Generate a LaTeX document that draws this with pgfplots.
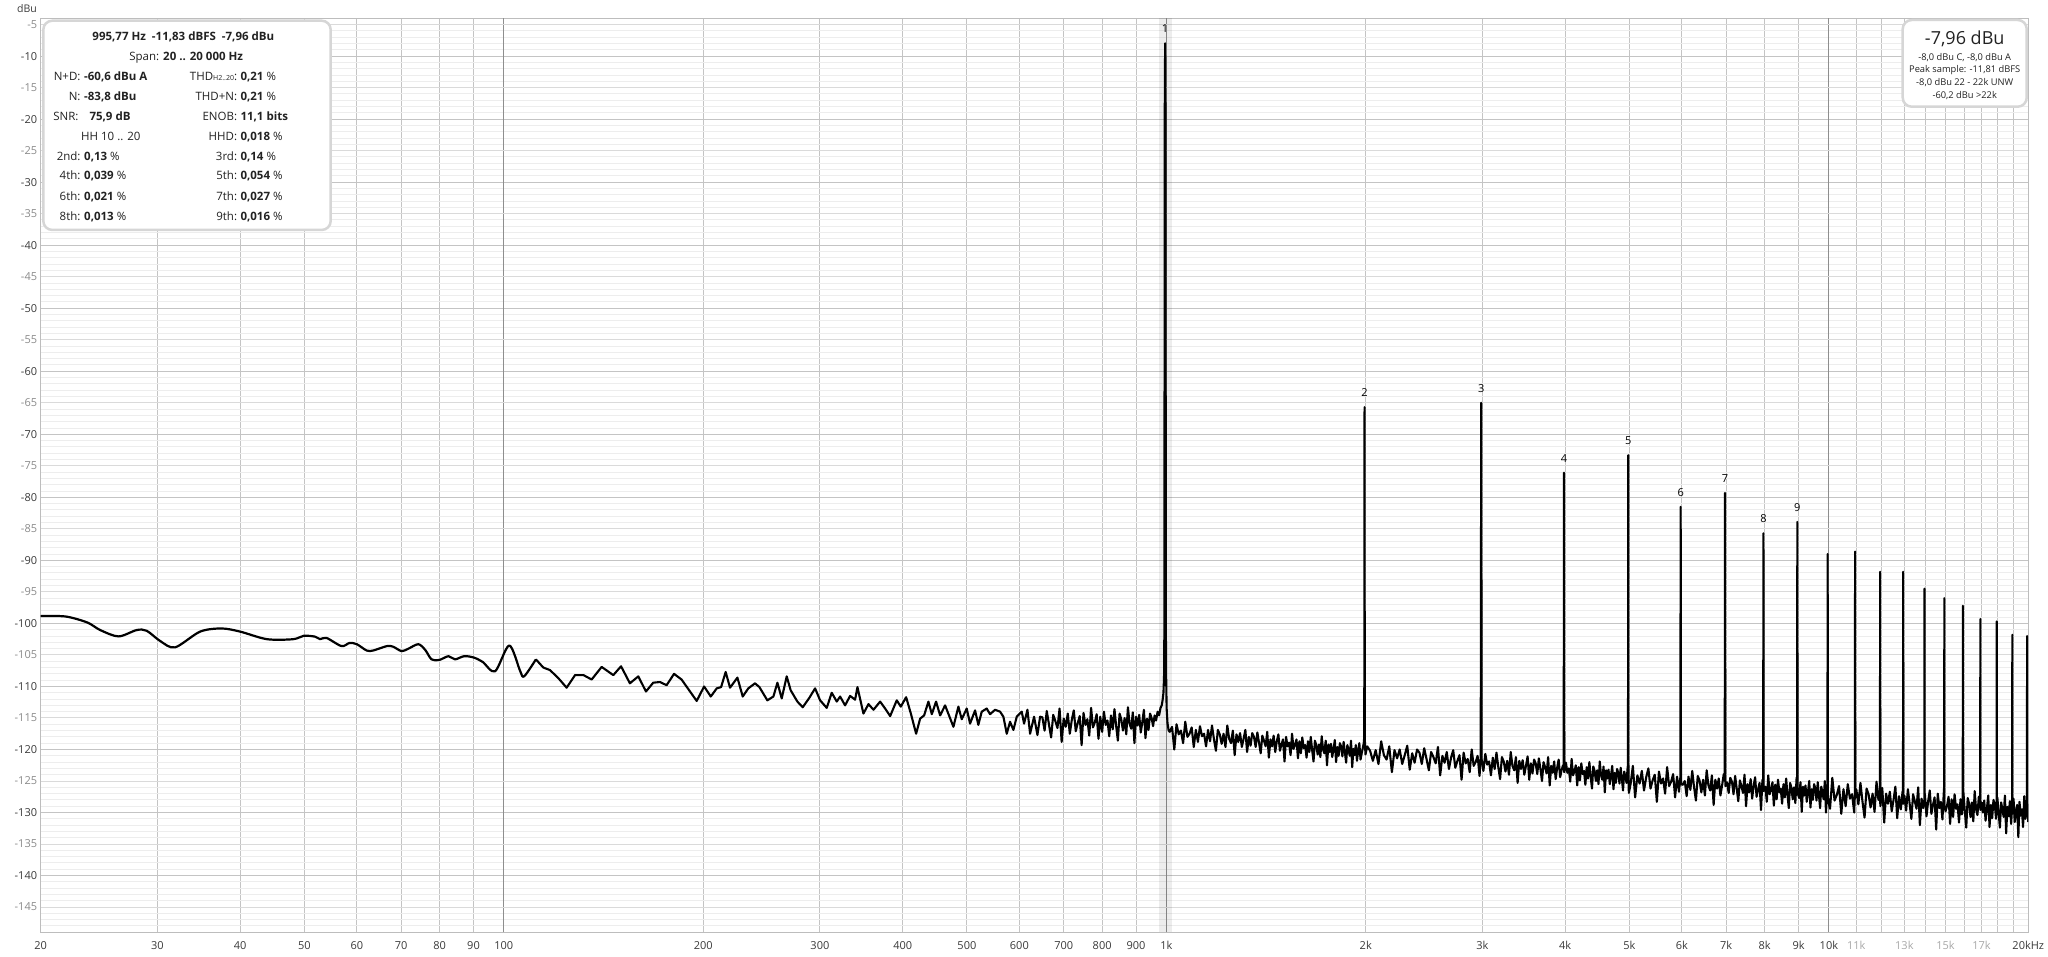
\documentclass[border=0pt]{standalone}
\usepackage{fontspec}
\setmainfont{Open Sans}
\usepackage{pgfplots}
\pgfplotsset{compat=1.18}
\usepackage{pgfplotstable}
\definecolor{gminor}{HTML}{EDEDED}
\definecolor{gfive}{HTML}{DADADA}
\definecolor{gten}{HTML}{C4C4C4}
\definecolor{gdec}{HTML}{8E8E8E}
\definecolor{framec}{HTML}{BDBDBD}
\definecolor{labdark}{HTML}{3A3A3A}
\definecolor{labgray}{HTML}{8A8A8A}
\definecolor{lablight}{HTML}{A8A8A8}
\definecolor{boxborder}{HTML}{D6D6D6}
\definecolor{txt}{HTML}{222222}

\pgfplotstableread[row sep=\\]{
f y\\
20 -98.84\\ 21.8 -98.9\\ 23.5 -99.84\\ 24.6 -101.06\\ 26.2 -102.06\\ 27.9 -101.06\\ 28.9 -101.16\\
30.3 -102.8\\ 31.9 -103.8\\ 34.8 -101.3\\ 37.5 -100.8\\ 40.0 -101.3\\ 43.9 -102.5\\ 48.1 -102.5\\
49.9 -101.96\\ 51.9 -102.1\\ 52.8 -102.5\\ 54.0 -102.3\\ 56.9 -103.6\\ 58.5 -103.1\\ 60.0 -103.3\\
62.1 -104.3\\ 63.5 -104.3\\ 66.6 -103.6\\ 68.1 -103.7\\ 70.1 -104.4\\ 71.8 -104.0\\ 74.3 -103.3\\
76.1 -104.2\\ 77.8 -105.7\\ 79.9 -105.8\\ 82.5 -105.2\\ 84.4 -105.7\\ 87.1 -105.2\\ 90.0 -105.4\\
92.9 -106.1\\ 97.0 -107.6\\ 101.9 -103.5\\ 105.8 -107.5\\ 107.3 -108.4\\ 111.8 -105.7\\
}\lowpart

\pgfplotstableread[row sep=\\]{
f y\\
111.8 -105.7\\ 114.7 -107.0\\ 117.4 -107.4\\ 120.9 -108.7\\ 124.4 -110.2\\ 128.1 -108.2\\ 131.9 -108.2\\
135.7 -108.9\\ 140.5 -106.9\\ 146.3 -108.2\\ 150.3 -106.8\\ 155.0 -109.5\\ 159.6 -108.4\\ 163.9 -110.8\\
168.1 -109.4\\ 172.1 -109.3\\ 176.1 -109.8\\ 180.7 -108.0\\ 185.5 -108.9\\ 195.5 -112.3\\ 200.6 -110.0\\
205.3 -111.6\\ 209.6 -110.3\\ 212.8 -110.1\\ 216.2 -107.7\\ 219.5 -110.2\\ 225.2 -108.6\\ 229.4 -111.6\\
233.9 -110.3\\ 239.4 -109.5\\ 243.1 -110.1\\ 249.9 -112.2\\ 255.2 -111.6\\ 258.8 -109.4\\ 262.7 -111.9\\
267.3 -108.4\\ 271.0 -110.6\\ 277.4 -112.4\\ 282.6 -113.3\\ 289.2 -111.8\\ 295.0 -110.3\\ 300.2 -112.2\\
307.2 -113.4\\ 312.6 -111.0\\ 318.1 -112.4\\ 321.8 -111.6\\ 327.4 -113.0\\ 333.2 -111.5\\ 339.0 -112.1\\
341.8 -110.1\\ 349.0 -114.3\\ 355.2 -112.8\\ 361.4 -113.7\\ 369.9 -112.4\\ 376.3 -113.5\\ 383.0 -114.7\\
391.9 -112.2\\ 397.4 -113.2\\ 404.8 -111.7\\ 411.5 -114.3\\ 419.1 -117.5\\ 425.0 -115.1\\ 430.9 -114.6\\
437.4 -112.4\\ 442.6 -114.4\\ 449.2 -112.4\\ 455.6 -114.6\\ 463.5 -113.0\\ 477.1 -116.4\\ 485.4 -113.2\\
491.1 -115.2\\ 499.7 -113.5\\ 505.5 -115.9\\ 514.4 -113.8\\ 520.3 -116.1\\ 526.4 -114.0\\ 535.6 -113.5\\
541.9 -114.4\\ 551.4 -113.7\\ 561.1 -114.0\\ 567.6 -114.8\\ 574.3 -117.5\\ 580.9 -115.6\\ 587.7 -116.9\\
594.6 -114.8\\ 605.0 -114.0\\ 609.9 -115.9\\ 617.1 -113.7\\ 622.8 -117.5\\ 631.5 -114.8\\ 638.9 -117.7\\
644.8 -114.8\\
650 -114.9\\ 655 -117.0\\ 660 -113.9\\ 665 -116.0\\ 670 -118.1\\ 675 -114.5\\ 680 -115.5\\ 685 -116.6\\
690 -113.5\\ 695 -118.8\\ 700 -115.1\\ 705 -116.4\\ 710 -114.3\\ 715 -117.5\\ 720 -115.3\\ 725 -113.8\\
730 -117.1\\ 735 -115.8\\ 740 -114.7\\ 745 -119.3\\ 750 -114.2\\ 755 -116.1\\ 760 -115.2\\ 765 -117.8\\
770 -113.4\\ 775 -116.5\\ 780 -115.7\\ 785 -114.4\\ 790 -118.3\\ 795 -114.8\\ 800 -117.2\\ 805 -114.0\\
810 -116.1\\ 815 -115.4\\ 820 -117.9\\ 825 -114.6\\ 830 -116.8\\ 835 -113.6\\ 840 -116.3\\ 845 -118.6\\
850 -114.3\\ 855 -115.2\\ 860 -117.0\\ 865 -115.0\\ 870 -117.6\\ 875 -113.3\\ 880 -115.9\\ 885 -116.7\\
890 -114.1\\ 895 -119.0\\ 900 -114.8\\ 905 -116.2\\ 910 -114.5\\ 915 -117.3\\ 920 -115.6\\ 925 -113.7\\
930 -118.2\\ 935 -115.1\\ 940 -116.9\\ 945 -114.3\\ 950 -115.0\\ 955 -116.3\\ 960 -114.6\\ 965 -115.4\\
970 -114.0\\ 975 -114.6\\ 980 -113.4\\ 984 -113.0\\ 987 -112.2\\ 990 -111.0\\ 992 -108.5\\ 993.3 -100\\
994.3 -20\\ 995.77 -7.96\\ 997.2 -20\\ 998.2 -100\\ 999.5 -109\\ 1001 -113.5\\ 1004 -115.8\\ 1008 -117.0\\
1012 -117.2\\ 1020 -116.4\\ 1028 -120.0\\ 1036 -116.0\\ 1044 -117.6\\ 1052 -117.0\\ 1060 -119.0\\ 1068 -115.6\\
1076 -118.0\\ 1084 -117.5\\ 1092 -116.5\\ 1100 -119.6\\ 1108 -116.9\\ 1116 -118.8\\ 1124 -116.3\\ 1132 -117.9\\
1140 -117.5\\ 1148 -119.5\\ 1156 -116.9\\ 1164 -118.7\\ 1172 -116.2\\ 1180 -118.4\\ 1188 -120.2\\ 1196 -116.9\\
1204 -117.6\\ 1212 -119.1\\ 1220 -117.5\\ 1228 -119.6\\ 1236 -116.2\\ 1244 -118.3\\ 1252 -119.0\\ 1260 -117.0\\
1268 -120.9\\ 1276 -117.6\\ 1284 -118.8\\ 1292 -117.4\\ 1300 -119.6\\ 1308 -118.3\\ 1316 -116.9\\ 1324 -120.4\\
1332 -118.0\\ 1340 -119.4\\ 1348 -117.4\\ 1356 -118.0\\ 1364 -119.6\\ 1372 -117.3\\ 1380 -118.9\\ 1388 -120.6\\
1396 -117.8\\ 1404 -118.6\\ 1412 -119.5\\ 1420 -117.2\\ 1428 -121.3\\ 1436 -118.4\\ 1444 -119.5\\ 1452 -117.8\\
1460 -120.4\\ 1468 -118.7\\ 1476 -117.6\\ 1484 -120.2\\ 1492 -119.2\\ 1500 -118.4\\ 1508 -121.9\\ 1516 -118.0\\
1524 -119.5\\ 1532 -118.9\\ 1540 -120.9\\ 1548 -117.5\\ 1556 -119.9\\ 1564 -119.3\\ 1572 -118.4\\ 1580 -121.4\\
1588 -118.7\\ 1596 -120.6\\ 1604 -118.1\\ 1612 -119.8\\ 1620 -119.3\\ 1628 -121.3\\ 1636 -118.7\\ 1644 -120.4\\
1652 -118.0\\ 1660 -120.1\\ 1668 -121.9\\ 1676 -118.6\\ 1684 -119.3\\ 1692 -120.8\\ 1700 -119.2\\ 1708 -121.2\\
1716 -117.9\\ 1724 -120.0\\ 1732 -120.6\\ 1740 -118.6\\ 1748 -122.5\\ 1756 -119.2\\ 1764 -120.4\\ 1772 -119.1\\
1780 -121.2\\ 1788 -119.9\\ 1796 -118.5\\ 1804 -122.0\\ 1812 -119.6\\ 1820 -121.0\\ 1828 -119.0\\ 1836 -119.5\\
1844 -121.1\\ 1852 -118.8\\ 1860 -120.4\\ 1868 -122.1\\ 1876 -119.3\\ 1884 -120.1\\ 1892 -121.0\\ 1900 -118.6\\
1908 -122.8\\ 1916 -119.9\\ 1924 -120.9\\ 1932 -119.3\\ 1940 -121.8\\ 1948 -120.2\\ 1956 -119.0\\ 1964 -121.6\\
1972 -120.6\\ 1980 -119.7\\ 1986 -119.0\\ 1989.5 -118.0\\ 1991.5 -65.7\\ 1993.5 -118.2\\ 1998 -120.8\\
2010 -119.5\\ 2030 -120.2\\ 2050 -121.8\\ 2070 -120.1\\ 2090 -122.3\\ 2110 -118.7\\ 2130 -120.9\\ 2150 -121.6\\
2170 -119.5\\ 2190 -123.6\\ 2210 -120.1\\ 2230 -121.4\\ 2250 -120.0\\ 2270 -122.3\\ 2290 -120.9\\ 2310 -119.4\\
2330 -123.2\\ 2350 -120.6\\ 2370 -122.1\\ 2390 -120.0\\ 2410 -120.5\\ 2430 -122.3\\ 2450 -119.8\\ 2470 -121.5\\
2490 -123.3\\ 2510 -120.4\\ 2530 -121.2\\ 2550 -122.2\\ 2570 -119.6\\ 2590 -124.1\\ 2610 -121.0\\ 2630 -122.1\\
2650 -120.4\\ 2670 -123.1\\ 2690 -121.3\\ 2710 -120.1\\ 2730 -122.9\\ 2750 -121.8\\ 2770 -120.9\\ 2790 -124.8\\
2810 -120.5\\ 2830 -122.2\\ 2850 -121.5\\ 2870 -123.6\\ 2890 -120.0\\ 2910 -122.6\\ 2930 -122.0\\ 2950 -121.0\\
2970 -124.2\\ 2982 -121.2\\ 2987.3 -65.0\\ 2992 -121.6\\
3010 -123.4\\ 3030 -120.7\\ 3050 -122.4\\ 3070 -121.9\\ 3090 -124.1\\ 3110 -121.3\\ 3130 -123.1\\ 3150 -120.5\\
3170 -122.8\\ 3190 -124.7\\ 3210 -121.2\\ 3230 -121.9\\ 3250 -123.5\\ 3270 -121.8\\ 3290 -124.0\\ 3310 -120.4\\
3330 -122.6\\ 3350 -123.3\\ 3370 -121.2\\ 3390 -125.3\\ 3410 -121.8\\ 3430 -123.1\\ 3450 -121.7\\ 3470 -124.0\\
3490 -122.6\\ 3510 -121.1\\ 3530 -124.8\\ 3550 -122.2\\ 3570 -123.8\\ 3590 -121.6\\ 3610 -122.2\\ 3630 -123.9\\
3650 -121.4\\ 3670 -123.1\\ 3690 -125.0\\ 3710 -122.0\\ 3730 -122.8\\ 3750 -123.8\\ 3770 -121.2\\ 3790 -125.7\\
3810 -122.6\\ 3830 -123.7\\ 3850 -121.9\\ 3870 -124.7\\ 3890 -122.9\\ 3910 -121.6\\ 3930 -124.4\\ 3950 -123.3\\
3970 -122.5\\ 3979 -123.0\\ 3983.1 -76.1\\ 3987 -123.6\\
4010 -122.1\\ 4030 -123.7\\ 4050 -123.0\\ 4070 -125.1\\ 4090 -121.5\\ 4110 -124.1\\ 4130 -123.5\\ 4150 -122.5\\
4170 -125.7\\ 4190 -122.8\\ 4210 -124.9\\ 4230 -122.2\\ 4250 -123.9\\ 4270 -123.4\\ 4290 -125.6\\ 4310 -122.8\\
4330 -124.6\\ 4350 -122.0\\ 4370 -124.3\\ 4390 -126.2\\ 4410 -122.7\\ 4430 -123.4\\ 4450 -125.0\\ 4470 -123.3\\
4490 -125.5\\ 4510 -121.9\\ 4530 -124.1\\ 4550 -124.8\\ 4570 -122.7\\ 4590 -126.8\\ 4610 -123.3\\ 4630 -124.6\\
4650 -123.2\\ 4670 -125.5\\ 4690 -124.1\\ 4710 -122.6\\ 4730 -126.3\\ 4750 -123.7\\ 4770 -125.3\\ 4790 -123.1\\
4810 -123.7\\ 4830 -125.4\\ 4850 -122.9\\ 4870 -124.6\\ 4890 -126.5\\ 4910 -123.5\\ 4930 -124.3\\ 4950 -125.3\\
4970 -122.7\\ 4975 -124.0\\ 4978.9 -73.3\\ 4983 -124.8\\ 4990 -126.9\\
5020 -125.5\\ 5060 -122.6\\ 5100 -127.6\\ 5140 -124.1\\ 5180 -125.4\\ 5220 -123.4\\ 5260 -126.5\\ 5300 -124.4\\
5340 -123.0\\ 5380 -126.2\\ 5420 -124.9\\ 5460 -124.0\\ 5500 -128.3\\ 5540 -123.5\\ 5580 -125.4\\ 5620 -124.6\\
5660 -127.0\\ 5700 -122.8\\ 5740 -125.8\\ 5780 -125.1\\ 5820 -123.9\\ 5860 -127.6\\ 5900 -124.3\\ 5940 -126.7\\
5968 -124.4\\ 5974.6 -81.5\\ 5981 -125.5\\
6020 -125.6\\ 6060 -125.0\\ 6100 -127.4\\ 6140 -124.3\\ 6180 -126.4\\ 6220 -123.4\\ 6260 -126.0\\ 6300 -128.1\\
6340 -124.2\\ 6380 -124.9\\ 6420 -126.8\\ 6460 -124.8\\ 6500 -127.3\\ 6540 -123.3\\ 6580 -125.7\\ 6620 -126.5\\
6660 -124.1\\ 6700 -128.8\\ 6740 -124.8\\ 6780 -126.2\\ 6820 -124.6\\ 6860 -127.3\\ 6900 -125.7\\ 6940 -123.9\\
6963 -125.0\\ 6970.4 -79.3\\ 6978 -125.8\\
7020 -125.2\\ 7060 -126.9\\ 7100 -124.5\\ 7140 -125.1\\ 7180 -127.1\\ 7220 -124.2\\ 7260 -126.2\\ 7300 -128.2\\
7340 -124.9\\ 7380 -125.8\\ 7420 -126.9\\ 7460 -124.0\\ 7500 -129.0\\ 7540 -125.5\\ 7580 -126.8\\ 7620 -124.7\\
7660 -127.8\\ 7700 -125.8\\ 7740 -124.4\\ 7780 -127.5\\ 7820 -126.3\\ 7860 -125.3\\ 7900 -129.6\\ 7940 -124.8\\
7959 -125.7\\ 7966.2 -85.7\\ 7973 -126.6\\
8020 -125.9\\ 8060 -128.3\\ 8100 -124.1\\ 8140 -127.1\\ 8180 -126.4\\ 8220 -125.2\\ 8260 -128.9\\ 8300 -125.6\\
8340 -127.9\\ 8380 -124.8\\ 8420 -126.8\\ 8460 -126.2\\ 8500 -128.6\\ 8540 -125.5\\ 8580 -127.6\\ 8620 -124.6\\
8660 -127.2\\ 8700 -129.3\\ 8740 -125.3\\ 8780 -126.1\\ 8820 -127.9\\ 8860 -126.0\\ 8900 -128.5\\ 8940 -124.4\\
8955 -126.0\\ 8961.9 -83.9\\ 8969 -126.9\\
9020 -127.7\\ 9060 -125.2\\ 9100 -129.9\\ 9140 -125.9\\ 9180 -127.3\\ 9220 -125.7\\ 9260 -128.3\\ 9300 -126.7\\
9340 -125.0\\ 9380 -129.2\\ 9420 -126.3\\ 9460 -128.0\\ 9500 -125.5\\ 9540 -126.2\\ 9580 -128.1\\ 9620 -125.2\\
9660 -127.2\\ 9700 -129.3\\ 9740 -125.9\\ 9780 -126.8\\ 9820 -127.9\\ 9860 -125.0\\ 9900 -130.0\\ 9940 -126.5\\
9950 -126.3\\ 9957.7 -89.0\\ 9965 -127.2\\ 9990 -128.4\\
10040 -129.4\\ 10120 -124.5\\ 10200 -128.1\\ 10280 -127.2\\ 10360 -125.8\\ 10440 -130.2\\ 10520 -126.3\\
10600 -129.0\\ 10680 -125.5\\ 10760 -127.8\\ 10840 -127.1\\ 10920 -130.0\\ 10947 -127.0\\ 10953.5 -88.6\\
10960 -127.6\\ 11000 -126.3\\ 11080 -128.7\\ 11160 -125.3\\ 11240 -128.3\\ 11320 -130.8\\ 11400 -126.2\\
11480 -127.1\\ 11560 -129.2\\ 11640 -127.0\\ 11720 -129.9\\ 11800 -125.1\\ 11880 -128.0\\ 11943 -127.2\\
11949.2 -91.8\\ 11955 -128.4\\ 11960 -129.0\\ 12040 -126.1\\ 12120 -131.6\\ 12200 -127.0\\ 12280 -128.6\\
12360 -126.7\\ 12440 -129.8\\ 12520 -128.0\\ 12600 -125.9\\ 12680 -130.9\\ 12760 -127.4\\ 12840 -129.5\\
12920 -126.6\\ 12939 -127.6\\ 12945.0 -91.8\\ 12951 -128.6\\ 13000 -127.3\\ 13080 -129.7\\ 13160 -126.3\\
13240 -128.6\\ 13320 -131.0\\ 13400 -127.1\\ 13480 -128.2\\ 13560 -129.4\\ 13640 -126.0\\ 13720 -132.0\\
13800 -127.8\\ 13880 -129.3\\ 13935 -128.0\\ 13940.8 -94.5\\ 13947 -128.9\\ 13960 -127.0\\ 14040 -130.6\\
14120 -128.2\\ 14200 -126.5\\ 14280 -130.2\\ 14360 -128.8\\ 14440 -127.6\\ 14520 -132.7\\ 14600 -127.0\\
14680 -129.3\\ 14760 -128.3\\ 14840 -131.1\\ 14920 -126.2\\ 14931 -127.8\\ 14936.6 -96.0\\ 14942 -128.9\\
15000 -129.8\\ 15080 -128.9\\ 15160 -127.5\\ 15240 -131.8\\ 15320 -127.9\\ 15400 -130.7\\ 15480 -127.1\\
15560 -129.4\\ 15640 -128.7\\ 15720 -131.6\\ 15800 -127.9\\ 15880 -130.3\\ 15926 -128.4\\ 15932.3 -97.2\\
15938 -129.3\\ 15960 -126.8\\ 16040 -129.8\\ 16120 -132.4\\ 16200 -127.7\\ 16280 -128.6\\ 16360 -130.7\\
16440 -128.4\\ 16520 -131.4\\ 16600 -126.6\\ 16680 -129.5\\ 16760 -130.4\\ 16840 -127.5\\ 16922 -128.6\\
16928.1 -99.3\\ 16934 -129.6\\ 17000 -128.4\\ 17080 -130.0\\ 17160 -128.1\\ 17240 -131.3\\ 17320 -129.4\\
17400 -127.3\\ 17480 -132.3\\ 17560 -128.8\\ 17640 -130.9\\ 17720 -128.0\\ 17800 -128.7\\ 17880 -131.0\\
17918 -128.8\\ 17923.9 -99.7\\ 17930 -129.9\\ 17960 -127.6\\ 18040 -130.0\\ 18120 -132.4\\ 18200 -128.4\\
18280 -129.5\\ 18360 -130.7\\ 18440 -127.3\\ 18520 -133.3\\ 18600 -129.1\\ 18680 -130.6\\ 18760 -128.2\\
18840 -131.8\\ 18914 -129.0\\ 18919.6 -101.8\\ 18925 -130.2\\ 19000 -127.8\\ 19080 -131.5\\ 19160 -130.0\\
19240 -128.8\\ 19320 -133.9\\ 19400 -128.3\\ 19480 -130.5\\ 19560 -129.5\\ 19640 -132.3\\ 19720 -127.4\\
19800 -131.0\\ 19880 -130.1\\ 19910 -129.2\\ 19915.4 -102.0\\ 19921 -130.4\\ 19960 -128.7\\ 20000 -131.5\\
}\highpart

\begin{document}
\begin{tikzpicture}[x=1pt,y=1pt]
\useasboundingbox (-40.7,-24.7) rectangle (2007.3,932.3);
\begin{axis}[
  at={(0,0)}, anchor=south west,
  scale only axis, width=1987.6pt, height=914pt,
  xmode=log, xmin=20, xmax=20000, ymin=-149, ymax=-4,
  axis line style={draw=framec, line width=1.3pt},
  major tick length=0pt, minor tick length=0pt,
  tick style={draw=none},
  xmajorgrids, ymajorgrids, yminorgrids,
  major grid style={draw=gten, line width=1pt},
  minor grid style={draw=gminor, line width=1pt},
  xtick={20,30,40,50,60,70,80,90,200,300,400,500,600,700,800,900,2000,3000,4000,5000,6000,7000,8000,9000,11000,12000,13000,14000,15000,16000,17000,18000,19000,20000},
  xticklabels={20,30,40,50,60,70,80,90,200,300,400,500,600,700,800,900,2k,3k,4k,5k,6k,7k,8k,9k,\textcolor{lablight}{11k},{},\textcolor{lablight}{13k},{},\textcolor{lablight}{15k},{},\textcolor{lablight}{17k},{},{},20kHz},
  extra x ticks={100,1000,10000},
  extra x tick labels={100,1k,10k},
  extra x tick style={major grid style={draw=gdec, line width=1pt}},
  ytick={-140,-130,-120,-110,-100,-90,-80,-70,-60,-50,-40,-30,-20,-10},
  yticklabels={-140,-130,-120,-110,-100,-90,-80,-70,-60,-50,-40,-30,-20,-10},
  extra y ticks={-145,-135,-125,-115,-105,-95,-85,-75,-65,-55,-45,-35,-25,-15,-5},
  extra y tick labels={\textcolor{labgray}{-145},\textcolor{labgray}{-135},\textcolor{labgray}{-125},\textcolor{labgray}{-115},\textcolor{labgray}{-105},\textcolor{labgray}{-95},\textcolor{labgray}{-85},\textcolor{labgray}{-75},\textcolor{labgray}{-65},\textcolor{labgray}{-55},\textcolor{labgray}{-45},\textcolor{labgray}{-35},\textcolor{labgray}{-25},\textcolor{labgray}{-15},\textcolor{labgray}{-5}},
  extra y tick style={major grid style={draw=gfive, line width=1pt}},
  minor ytick={-148,-147,-146,-144,-143,-142,-141,-139,-138,-137,-136,-134,-133,-132,-131,-129,-128,-127,-126,-124,-123,-122,-121,-119,-118,-117,-116,-114,-113,-112,-111,-109,-108,-107,-106,-104,-103,-102,-101,-99,-98,-97,-96,-94,-93,-92,-91,-89,-88,-87,-86,-84,-83,-82,-81,-79,-78,-77,-76,-74,-73,-72,-71,-69,-68,-67,-66,-64,-63,-62,-61,-59,-58,-57,-56,-54,-53,-52,-51,-49,-48,-47,-46,-44,-43,-42,-41,-39,-38,-37,-36,-34,-33,-32,-31,-29,-28,-27,-26,-24,-23,-22,-21,-19,-18,-17,-16,-14,-13,-12,-11,-9,-8,-7,-6},
  tick label style={font=\fontsize{11}{13}\selectfont, text=labdark},
  xticklabel style={anchor=base, yshift=-17pt},
  yticklabel style={anchor=east, inner xsep=3.4pt},
]
\fill[black, opacity=0.07] (axis cs:975,-149) rectangle (axis cs:1020,-4);
\addplot[black, line width=2.2pt, line join=round, smooth, tension=0.5] table[x=f,y=y] {\lowpart};
\addplot[black, line width=2.1pt, line join=round] table[x=f,y=y] {\highpart};
\begin{scope}[every node/.style={font=\fontsize{11}{13}\selectfont, text=black, inner sep=0pt}]
\node at (axis cs:995.77,-5.6) {1};
\node at (axis cs:1991.5,-63.4) {2};
\node at (axis cs:2987.3,-62.7) {3};
\node at (axis cs:3983.1,-73.8) {4};
\node at (axis cs:4978.9,-71.0) {5};
\node at (axis cs:5974.6,-79.2) {6};
\node at (axis cs:6970.4,-77.0) {7};
\node at (axis cs:7966.2,-83.4) {8};
\node at (axis cs:8961.9,-81.6) {9};
\end{scope}
\end{axis}
% y unit label
\node[font=\fontsize{10.5}{12}\selectfont, text=labdark] at (-13.7,923.3) {dBu};
% info box
\draw[boxborder, line width=2.5pt, fill=white, rounded corners=9pt] (2.6,911.6) rectangle (290,702.3);
\begin{scope}[every node/.style={font=\fontsize{11.5}{13}\selectfont, text=txt, inner sep=0pt}]
\node[anchor=base] at (142.6,891.9) {\textbf{995,77 Hz\ \ -11,83 dBFS\ \ -7,96 dBu}};
\node[anchor=base] at (145.5,871.9) {Span: \textbf{20 .. 20 000 Hz}};
\node[anchor=base east] at (40,851.3) {N+D:};
\node[anchor=base west] at (43.3,851.3) {\textbf{-60,6 dBu A}};
\node[anchor=base east] at (196.6,851.3) {THD{\fontsize{7}{8}\selectfont H2..20}:};
\node[anchor=base west] at (199.6,851.3) {\textbf{0,21} \%};
\node[anchor=base east] at (40,831.3) {N:};
\node[anchor=base west] at (43.3,831.3) {\textbf{-83,8 dBu}};
\node[anchor=base east] at (196.6,831.3) {THD+N:};
\node[anchor=base west] at (199.6,831.3) {\textbf{0,21} \%};
\node[anchor=base east] at (38,811.3) {SNR:};
\node[anchor=base west] at (48.6,811.3) {\textbf{75,9 dB}};
\node[anchor=base east] at (196.6,811.3) {ENOB:};
\node[anchor=base west] at (199.6,811.3) {\textbf{11,1 bits}};
\node[anchor=base west] at (40.3,791.9) {HH 10 .. 20};
\node[anchor=base east] at (196.6,791.9) {HHD:};
\node[anchor=base west] at (199.6,791.9) {\textbf{0,018} \%};
\node[anchor=base east] at (40,771.9) {2nd:};
\node[anchor=base west] at (43.3,771.9) {\textbf{0,13} \%};
\node[anchor=base east] at (196.6,771.9) {3rd:};
\node[anchor=base west] at (199.6,771.9) {\textbf{0,14} \%};
\node[anchor=base east] at (40,752.6) {4th:};
\node[anchor=base west] at (43.3,752.6) {\textbf{0,039} \%};
\node[anchor=base east] at (196.6,752.6) {5th:};
\node[anchor=base west] at (199.6,752.6) {\textbf{0,054} \%};
\node[anchor=base east] at (40,731.9) {6th:};
\node[anchor=base west] at (43.3,731.9) {\textbf{0,021} \%};
\node[anchor=base east] at (196.6,731.9) {7th:};
\node[anchor=base west] at (199.6,731.9) {\textbf{0,027} \%};
\node[anchor=base east] at (40,711.9) {8th:};
\node[anchor=base west] at (43.3,711.9) {\textbf{0,013} \%};
\node[anchor=base east] at (196.6,711.9) {9th:};
\node[anchor=base west] at (199.6,711.9) {\textbf{0,016} \%};
\end{scope}
% level box
\draw[boxborder, line width=2.5pt, fill=white, rounded corners=9pt] (1862,912.3) rectangle (1986,825.6);
\node[font=\fontsize{18}{21}\selectfont, text=txt, inner sep=0pt] at (1924,893) {-7,96 dBu};
\begin{scope}[every node/.style={font=\fontsize{9.3}{11}\selectfont, text=txt, inner sep=0pt}]
\node at (1924,874.6) {-8,0 dBu C, -8,0 dBu A};
\node at (1924,862.3) {Peak sample: -11,81 dBFS};
\node at (1924,849.6) {-8,0 dBu 22 - 22k UNW};
\node at (1924,836.3) {-60,2 dBu >22k};
\end{scope}
\end{tikzpicture}
\end{document}
